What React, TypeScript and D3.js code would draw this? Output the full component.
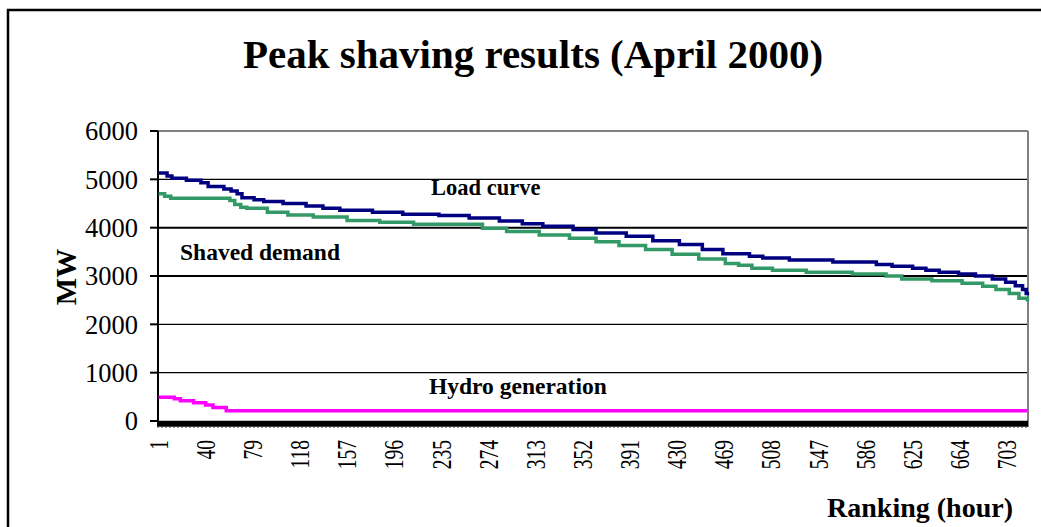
import React from "react";
import * as d3 from "d3";

const yTicks = [0, 1000, 2000, 3000, 4000, 5000, 6000];
const xTickLabels = [1, 40, 79, 118, 157, 196, 235, 274, 313, 352, 391, 430, 469, 508, 547, 586, 625, 664, 703];

// Step breakpoints: hour where a level starts, and its MW value
const loadHours = [1, 8, 12, 24, 36, 42, 55, 61, 66, 70, 80, 88, 104, 123, 137, 151, 178, 203, 233, 258, 283, 302, 319, 344, 363, 388, 410, 432, 451, 468, 490, 501, 523, 559, 595, 608, 625, 636, 647, 663, 677, 691, 702, 710, 716, 719, 720];
const loadValues = [5130, 5070, 5020, 4980, 4930, 4850, 4800, 4760, 4700, 4620, 4580, 4540, 4500, 4450, 4400, 4360, 4320, 4280, 4250, 4200, 4140, 4080, 4030, 3960, 3890, 3820, 3730, 3650, 3550, 3460, 3410, 3370, 3330, 3290, 3240, 3200, 3160, 3120, 3080, 3040, 3000, 2940, 2870, 2800, 2720, 2640, 2600];

const shavedHours = [1, 6, 11, 60, 64, 69, 74, 91, 108, 129, 157, 184, 212, 269, 289, 316, 341, 363, 382, 404, 426, 448, 470, 481, 492, 509, 537, 575, 603, 616, 641, 666, 683, 694, 705, 713, 720];
const shavedValues = [4700, 4650, 4610, 4560, 4480, 4420, 4400, 4320, 4260, 4220, 4150, 4110, 4070, 3990, 3920, 3850, 3780, 3710, 3630, 3550, 3450, 3350, 3260, 3220, 3160, 3120, 3080, 3040, 3000, 2940, 2900, 2850, 2790, 2720, 2640, 2540, 2470];

const hydroHours = [1, 14, 19, 30, 40, 46, 57, 720];
const hydroValues = [490, 460, 420, 380, 330, 280, 210, 210];

const W = 1041;
const H = 527;
const plot = { left: 158, right: 1028, top: 131, bottom: 421 };
const font = "'Liberation Serif', 'Times New Roman', serif";

export default function App() {
  const x = d3.scaleLinear().domain([0.5, 720.5]).range([plot.left, plot.right]);
  const y = d3.scaleLinear().domain([0, 6000]).range([plot.bottom, plot.top]);

  const mk = (hs: number[], vs: number[]) =>
    d3
      .line<number>()
      .x((_, i) => x(hs[i]))
      .y((_, i) => y(vs[i]))
      .curve(d3.curveStepAfter)(vs) || "";

  const series = [
    { hs: loadHours, vs: loadValues, color: "#000080" },
    { hs: shavedHours, vs: shavedValues, color: "#339966" },
    { hs: hydroHours, vs: hydroValues, color: "#FF00FF" },
  ];

  return (
    <svg width={W} height={H} style={{ position: "absolute", left: 0, top: 0, background: "#fff" }}>
      {/* outer frame */}
      <rect x={8} y={10} width={W + 20} height={H + 20} fill="none" stroke="#000" strokeWidth={2.5} />

      {/* title */}
      <text x={533} y={68} textAnchor="middle" fontFamily={font} fontWeight="bold" fontSize={41}>
        Peak shaving results (April 2000)
      </text>

      {/* gridlines */}
      {yTicks.slice(1, -1).map((t) => (
        <line key={t} x1={plot.left} x2={plot.right} y1={y(t)} y2={y(t)} stroke="#000" strokeWidth={t === 3000 || t === 4000 ? 2 : 1.2} />
      ))}
      <line x1={plot.left} x2={plot.right} y1={y(6000)} y2={y(6000)} stroke="#808080" strokeWidth={2} />
      <line x1={plot.right} x2={plot.right} y1={plot.top} y2={plot.bottom + 6} stroke="#808080" strokeWidth={2} />

      {/* y axis */}
      <line x1={plot.left} x2={plot.left} y1={plot.top} y2={plot.bottom} stroke="#000" strokeWidth={2} />
      {yTicks.map((t) => (
        <g key={t}>
          <line x1={plot.left - 8} x2={plot.left} y1={y(t)} y2={y(t)} stroke="#000" strokeWidth={2} />
          <text x={138} y={y(t)} dy="0.35em" textAnchor="end" fontFamily={font} fontSize={26.5}>
            {t}
          </text>
        </g>
      ))}

      {/* series */}
      {series.map((s, i) => (
        <path key={i} d={mk(s.hs, s.vs)} fill="none" stroke={s.color} strokeWidth={3.5} />
      ))}

      {/* x axis */}
      <line x1={plot.left - 1} x2={plot.right} y1={plot.bottom + 2.8} y2={plot.bottom + 2.8} stroke="#000" strokeWidth={6} />
      <line x1={plot.left - 1} x2={plot.right} y1={plot.bottom + 6.5} y2={plot.bottom + 6.5} stroke="#999" strokeWidth={1} strokeDasharray="2,2" />
      {xTickLabels.map((t) => (
        <text
          key={t}
          transform={`translate(${x(t)},${440}) rotate(-90) scale(0.72,1)`}
          textAnchor="end"
          dy="0.34em"
          fontFamily={font}
          fontSize={27}
        >
          {t}
        </text>
      ))}

      {/* axis titles */}
      <text transform={`translate(${76},${277}) rotate(-90)`} textAnchor="middle" fontFamily={font} fontWeight="bold" fontSize={29}>
        MW
      </text>
      <text x={1013} y={517} textAnchor="end" fontFamily={font} fontWeight="bold" fontSize={28}>
        Ranking (hour)
      </text>

      {/* annotations */}
      <text x={431} y={195} fontFamily={font} fontWeight="bold" fontSize={22.5}>
        Load curve
      </text>
      <text x={180} y={260} fontFamily={font} fontWeight="bold" fontSize={23.5}>
        Shaved demand
      </text>
      <text x={429} y={394} fontFamily={font} fontWeight="bold" fontSize={23.5}>
        Hydro generation
      </text>
    </svg>
  );
}
